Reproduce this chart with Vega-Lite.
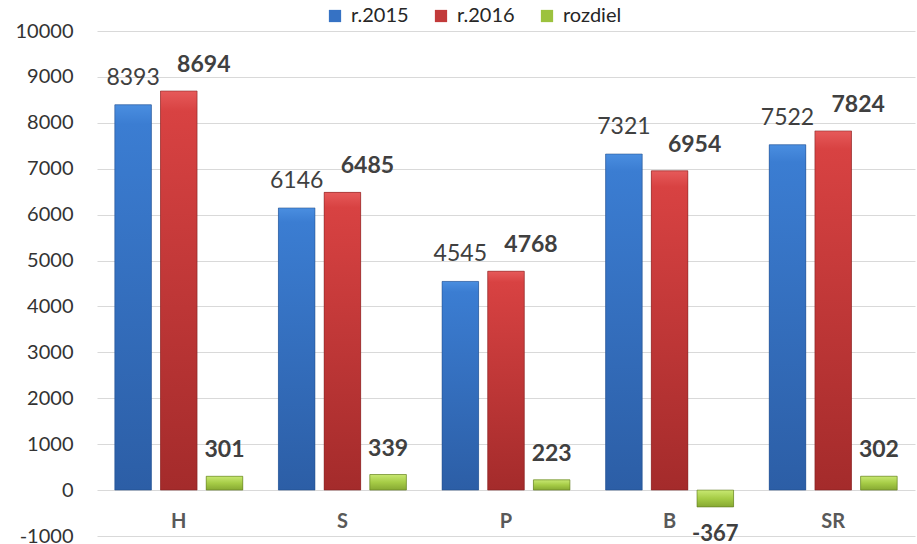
{
  "$schema": "https://vega.github.io/schema/vega-lite/v6.json",
  "autosize": "none",
  "width": 818,
  "height": 505,
  "padding": {"left": 97, "top": 31, "right": 2, "bottom": 8},
  "background": "white",
  "config": {
    "view": {"stroke": null},
    "font": "Lato"
  },
  "data": {
    "values": [
      {"cat": "H", "series": "r.2015", "value": 8393},
      {"cat": "H", "series": "r.2016", "value": 8694},
      {"cat": "H", "series": "rozdiel", "value": 301},
      {"cat": "S", "series": "r.2015", "value": 6146},
      {"cat": "S", "series": "r.2016", "value": 6485},
      {"cat": "S", "series": "rozdiel", "value": 339},
      {"cat": "P", "series": "r.2015", "value": 4545},
      {"cat": "P", "series": "r.2016", "value": 4768},
      {"cat": "P", "series": "rozdiel", "value": 223},
      {"cat": "B", "series": "r.2015", "value": 7321},
      {"cat": "B", "series": "r.2016", "value": 6954},
      {"cat": "B", "series": "rozdiel", "value": -367},
      {"cat": "SR", "series": "r.2015", "value": 7522},
      {"cat": "SR", "series": "r.2016", "value": 7824},
      {"cat": "SR", "series": "rozdiel", "value": 302}
    ]
  },
  "encoding": {
    "x": {
      "field": "cat", "type": "nominal", "sort": ["H", "S", "P", "B", "SR"],
      "scale": {"paddingInner": 0.218, "paddingOuter": 0.109},
      "axis": {
        "title": null, "orient": "bottom", "domain": false, "ticks": false, "grid": false,
        "labelAngle": 0, "labelFontSize": 20, "labelFontWeight": "bold", "labelColor": "#595959",
        "labelBaseline": "middle", "labelPadding": -15
      }
    },
    "xOffset": {
      "field": "series", "type": "nominal",
      "scale": {"domain": ["r.2015", "r.2016", "rozdiel"], "paddingInner": 0.2, "paddingOuter": 0}
    },
    "y": {
      "field": "value", "type": "quantitative",
      "scale": {"domain": [-1000, 10000], "nice": false, "zero": false},
      "axis": {
        "title": null, "values": [-1000, 0, 1000, 2000, 3000, 4000, 5000, 6000, 7000, 8000, 9000, 10000],
        "labelExpr": "'' + datum.value", "domain": false, "ticks": false, "labelPadding": 24,
        "grid": true, "gridColor": "#d9d9d9", "gridWidth": 1,
        "labelFontSize": 20, "labelColor": "#333333"
      }
    }
  },
  "layer": [
    {
      "mark": {"type": "bar"},
      "encoding": {
        "color": {
          "field": "series", "type": "nominal",
          "scale": {"domain": ["r.2015", "r.2016", "rozdiel"], "range": ["#3672c4", "#c23a3a", "#9cc23e"]},
          "legend": {
            "title": null, "orient": "none", "direction": "horizontal",
            "legendX": 228, "legendY": -25,
            "symbolType": "square", "symbolSize": 150, "symbolStrokeWidth": 0,
            "labelFontSize": 20, "labelColor": "#262626", "labelOffset": 6, "columnPadding": 22
          }
        }
      }
    },
    {
      "transform": [{"filter": "datum.series === 'r.2015'"}],
      "mark": {"type": "bar", "stroke": "#1f4a85", "strokeOpacity": 0.5, "strokeWidth": 1,
        "color": {"gradient": "linear", "x1": 0, "y1": 0, "x2": 0, "y2": 1,
          "stops": [{"offset": 0, "color": "#4a8ee0"}, {"offset": 0.05, "color": "#3b7dd2"}, {"offset": 1, "color": "#2c5ea6"}]}}
    },
    {
      "transform": [{"filter": "datum.series === 'r.2016'"}],
      "mark": {"type": "bar", "stroke": "#7a1d1d", "strokeOpacity": 0.5, "strokeWidth": 1,
        "color": {"gradient": "linear", "x1": 0, "y1": 0, "x2": 0, "y2": 1,
          "stops": [{"offset": 0, "color": "#e65a5a"}, {"offset": 0.05, "color": "#d84242"}, {"offset": 1, "color": "#a42b2b"}]}}
    },
    {
      "transform": [{"filter": "datum.series === 'rozdiel'"}],
      "mark": {"type": "bar", "stroke": "#5f7a22", "strokeOpacity": 0.6, "strokeWidth": 1,
        "color": {"gradient": "linear", "x1": 0, "y1": 0, "x2": 0, "y2": 1,
          "stops": [{"offset": 0, "color": "#c8e872"}, {"offset": 0.5, "color": "#a6cc46"}, {"offset": 1, "color": "#86a832"}]}}
    },
    {
      "transform": [{"filter": "datum.series === 'r.2015'"}],
      "mark": {"type": "text", "fontSize": 23, "color": "#404040", "baseline": "alphabetic", "dy": -20},
      "encoding": {"text": {"field": "value", "type": "nominal"}}
    },
    {
      "transform": [{"filter": "datum.series === 'r.2016'"}],
      "mark": {"type": "text", "fontSize": 23, "fontWeight": "bold", "color": "#404040", "baseline": "alphabetic", "dy": -19, "dx": 25},
      "encoding": {"text": {"field": "value", "type": "nominal"}}
    },
    {
      "transform": [{"filter": "datum.series === 'rozdiel' && datum.value >= 0"}],
      "mark": {"type": "text", "fontSize": 23, "fontWeight": "bold", "color": "#404040", "baseline": "alphabetic", "dy": -19},
      "encoding": {"text": {"field": "value", "type": "nominal"}}
    },
    {
      "transform": [{"filter": "datum.series === 'rozdiel' && datum.value < 0"}],
      "mark": {"type": "text", "fontSize": 22, "fontWeight": "bold", "color": "#404040", "baseline": "top", "dy": 17},
      "encoding": {"text": {"field": "value", "type": "nominal"}}
    }
  ]
}
